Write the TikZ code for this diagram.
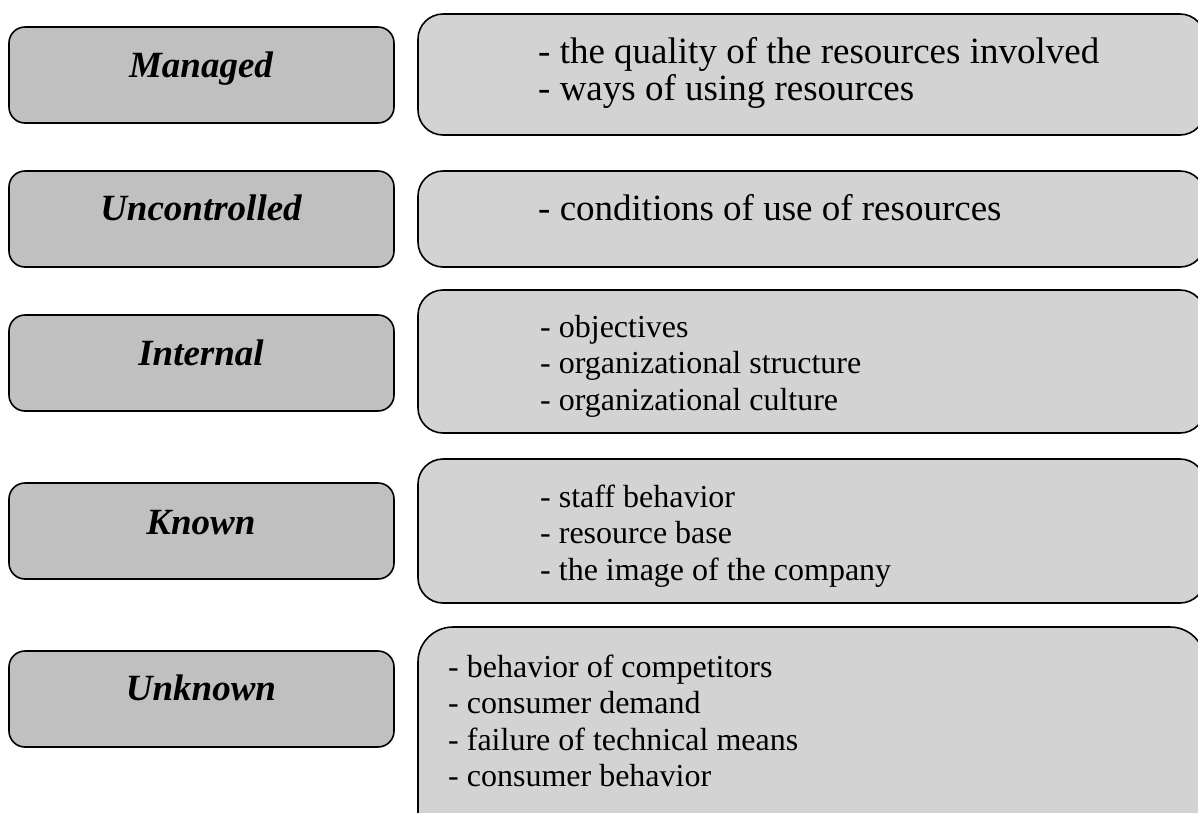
\documentclass[tikz,border=0pt]{standalone}
\usepackage{fontspec}
\setmainfont{Liberation Serif}
\begin{document}
\begin{tikzpicture}[x=1pt,y=-1pt,
  catbox/.style={draw=black,line width=1.6pt,fill=catfill,rounded corners=16pt},
  listbox/.style={draw=black,line width=1.6pt,fill=listfill,rounded corners=25pt},
  catlabel/.style={anchor=base,inner sep=0pt,font=\fontsize{37}{40}\selectfont\bfseries\itshape},
  biglist/.style={anchor=base west,inner sep=0pt,font=\fontsize{37}{37}\selectfont},
  smalllist/.style={anchor=base west,inner sep=0pt,font=\fontsize{32}{36.5}\selectfont}]
\definecolor{catfill}{RGB}{192,192,192}
\definecolor{listfill}{RGB}{211,211,211}
\useasboundingbox (0,0) rectangle (1198,812);
\begin{scope}
\clip (0,0) rectangle (1198,812);
% category boxes on the left
\draw[catbox] (9,27) rectangle (394,123);
\draw[catbox] (9,171) rectangle (394,267);
\draw[catbox] (9,315) rectangle (394,411);
\draw[catbox] (9,483) rectangle (394,579);
\draw[catbox] (9,651) rectangle (394,747);
% lists of factors on the right
\draw[listbox] (418,14) rectangle (1205,135);
\draw[listbox] (418,171) rectangle (1205,267);
\draw[listbox] (418,290) rectangle (1205,433);
\draw[listbox] (418,459) rectangle (1205,603);
\draw[listbox,rounded corners=35pt] (418,627) rectangle (1205,860);
\end{scope}
% category labels
\node[catlabel] (managed) at (201,77) {Managed};
\node[catlabel] (uncontrolled) at (201,220) {Uncontrolled};
\node[catlabel] (internal) at (201,365) {Internal};
\node[catlabel] (known) at (201,534) {Known};
\node[catlabel] (unknown) at (201,700) {Unknown};
% factor lists
\node[biglist] (managedlist) at (538,63) {\begin{tabular}[t]{@{}l@{}}- the quality of the resources involved\\- ways of using resources\end{tabular}};
\node[biglist] (uncontrolledlist) at (538,220) {- conditions of use of resources};
\node[smalllist] (internallist) at (540,337) {\begin{tabular}[t]{@{}l@{}}- objectives\\- organizational structure\\- organizational culture\end{tabular}};
\node[smalllist] (knownlist) at (540,507) {\begin{tabular}[t]{@{}l@{}}- staff behavior\\- resource base\\- the image of the company\end{tabular}};
\node[smalllist] (unknownlist) at (448,677) {\begin{tabular}[t]{@{}l@{}}- behavior of competitors\\- consumer demand\\- failure of technical means\\- consumer behavior\end{tabular}};
\end{tikzpicture}
\end{document}
